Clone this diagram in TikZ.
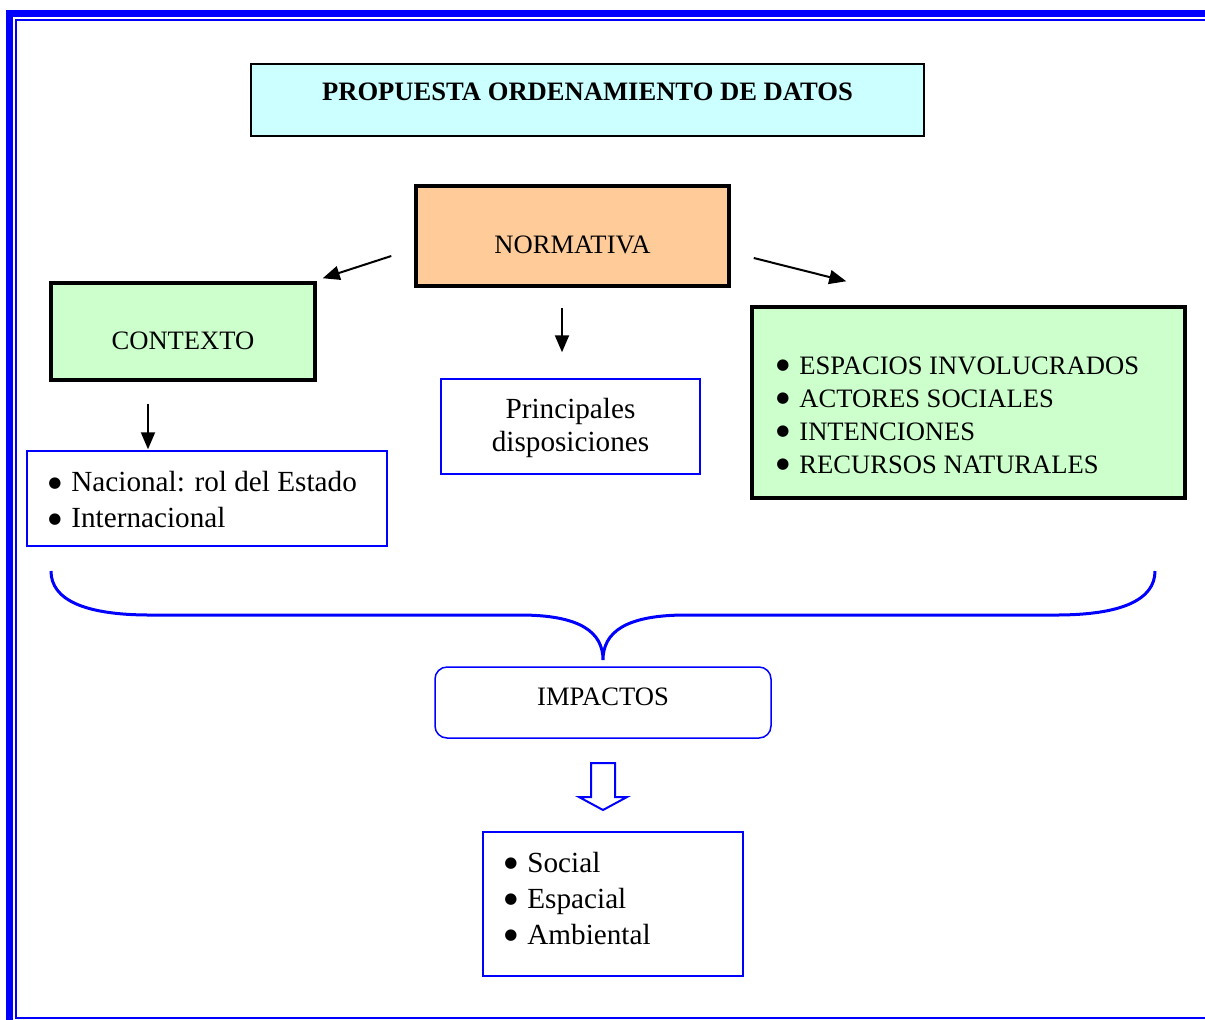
\documentclass[tikz,border=0pt]{standalone}
\usepackage{fontspec}
\setmainfont{Liberation Serif}
\newfontfamily\simbolos{DejaVu Sans}
\usetikzlibrary{arrows.meta,calc}
\definecolor{celeste}{HTML}{CCFFFF}
\definecolor{naranja}{HTML}{FFCC99}
\definecolor{verdeclaro}{HTML}{CCFFCC}
\newcommand{\vineta}{\makebox[11.5pt][l]{\raisebox{2.1pt}{\simbolos\fontsize{7.5}{9}\selectfont ●}}}
\begin{document}
\begin{tikzpicture}[x=0.5pt,y=-0.5pt,
    gruesa/.style={draw=black,line width=1.75pt,inner sep=0pt},
    fina/.style={draw=blue,line width=0.75pt,inner sep=0pt},
    flecha/.style={-{Triangle[length=8.5pt,width=7pt]},line width=1pt},
    mayus/.style={font=\fontsize{13.3}{16.5}\selectfont},
    texto/.style={font=\fontsize{14.6}{18}\selectfont}]
  \useasboundingbox (0,0) rectangle (1205,1019);
  \clip (0,0) rectangle (1205,1019);
  % marco
  \draw[blue,line width=3.5pt] (9.5,13.5) rectangle (1260,1060);
  \draw[blue,line width=1pt] (16,20) rectangle (1250,1018);

  % titulo
  \node[draw=black,line width=0.75pt,fill=celeste,minimum width=336.5pt,minimum height=36pt,
        label={[mayus,font=\bfseries\fontsize{13.3}{16.5}\selectfont,yshift=4pt]center:PROPUESTA ORDENAMIENTO DE DATOS}]
        (titulo) at (587.5,100) {};

  % cajas
  \node[gruesa,fill=naranja,minimum width=156.5pt,minimum height=50pt,
        label={[mayus,yshift=-4.5pt]center:NORMATIVA}] (normativa) at (572.5,236) {};
  \node[gruesa,fill=verdeclaro,minimum width=132pt,minimum height=48.5pt,
        label={[mayus,yshift=-4.75pt]center:CONTEXTO}] (contexto) at (183,331.5) {};
  \node[gruesa,fill=verdeclaro,minimum width=216.5pt,minimum height=95.5pt] (aspectos) at (968.5,402.5) {};
  \node[mayus,align=left,anchor=west,inner sep=0pt] (aspectoslista) at (776,415)
        {\vineta ESPACIOS INVOLUCRADOS\\ \vineta ACTORES SOCIALES\\ \vineta INTENCIONES\\ \vineta RECURSOS NATURALES};

  \node[fina,minimum width=129.5pt,minimum height=47.5pt] (principales) at (570.5,426.5) {};
  \node[texto,align=center,inner sep=0pt,font=\fontsize{14.6}{16.5}\selectfont] (principalestexto) at (570.5,428)
        {Principales\\ disposiciones};

  \node[fina,minimum width=180pt,minimum height=47.5pt] (nacional) at (207,498.5) {};
  \node[texto,align=left,anchor=west,inner sep=0pt] (nacionallista) at (48,500)
        {\vineta Nacional: rol del Estado\\ \vineta Internacional};

  % flechas
  \draw[flecha] ([shift={(-23,20)}]normativa.west) -- ([shift={(6,-3)}]contexto.north east);
  \draw[flecha] ([shift={(23,22)}]normativa.east) -- ([shift={(96,-24)}]aspectos.north west);
  \draw[flecha] ([shift={(-10.5,20)}]normativa.south) -- ([shift={(-8.5,-26)}]principales.north);
  \draw[flecha] ([shift={(-35,22)}]contexto.south) -- ([shift={(-59,-1)}]nacional.north);

  % llave
  \draw[blue,line width=1.5pt] (51,571) .. controls (51,600) and (85,615) .. (150,615) -- (520,615)
        .. controls (580,615) and (603,632) .. (603,660)
        .. controls (603,632) and (626,615) .. (686,615) -- (1056,615)
        .. controls (1121,615) and (1155,600) .. (1155,571);

  \node[fina,rounded corners=6pt,minimum width=168pt,minimum height=35.5pt,
        label={[mayus,yshift=2.75pt]center:IMPACTOS}] (impactos) at (603,702.5) {};

  % flecha hueca
  \draw[blue,line width=1pt,fill=white] (591,763) -- (615,763) -- (615,797) -- (627,797) -- (603,810)
        -- (579,797) -- (591,797) -- cycle;

  \node[fina,minimum width=130pt,minimum height=72pt] (social) at (613,904) {};
  \node[texto,align=left,anchor=west,inner sep=0pt] (sociallista) at (504,898)
        {\vineta Social\\ \vineta Espacial\\ \vineta Ambiental};
\end{tikzpicture}
\end{document}
